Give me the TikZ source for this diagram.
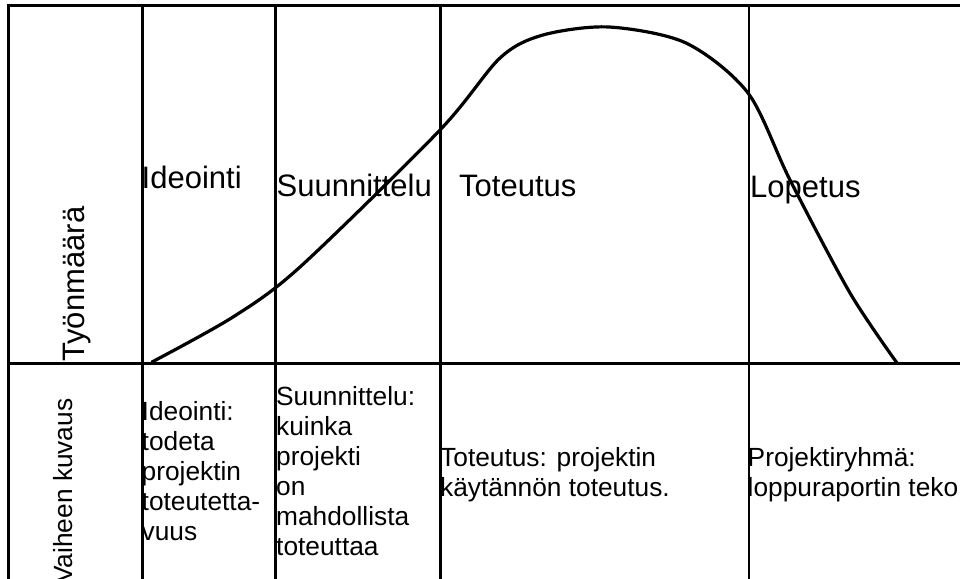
\documentclass[tikz,border=0pt]{standalone}
\usepackage{fontspec}
\setmainfont{Liberation Sans}
\tikzset{
  gridline/.style={line width=2.4pt},
  borderline/.style={line width=3pt},
  workcurve/.style={line width=3.2pt, line join=round, line cap=round},
  phase/.style={font=\fontsize{31}{36}\selectfont, inner sep=0pt, anchor=base west},
  desc/.style={font=\fontsize{26.3}{30}\selectfont, inner sep=0pt, anchor=base west},
}
\begin{document}
\begin{tikzpicture}[x=1pt,y=-1pt]
\useasboundingbox (0,0) rectangle (960,578);
\clip (0,0) rectangle (960,578);
% grid
\draw[borderline] (8.3,580) -- (8.3,5.5) -- (962,5.5);
\draw[gridline] (8.3,363.5) -- (962,363.5);
\foreach \x in {142.5,275.3,440.5,748.7} \draw[gridline] (\x,5.5) -- (\x,580);
% curve
\draw[workcurve] plot[smooth, tension=0.5] coordinates {
  (152,362) (233,317) (300,267) (440,130) (500,58) (543,35)
  (609,27) (686,43) (748,93) (790,180) (850,293) (897,363)};
% upper labels
\node[phase] (ide) at (141.5,188) {Ideointi};
\node[phase] (suu) at (276.5,196) {Suunnittelu};
\node[phase] (tot) at (459,196) {Toteutus};
\node[phase] (lop) at (750,197) {Lopetus};
\node[phase, rotate=90] (tyo) at (84,362) {Työnmäärä};
% lower labels
\node[desc, rotate=90] (vai) at (72,584) {Vaiheen kuvaus};
\node[desc] (d1) at (141.5,420) {\begin{tabular}[t]{@{}l@{}}Ideointi:\\todeta\\projektin\\toteutetta-\\vuus\end{tabular}};
\node[desc] (d2) at (276,405) {\begin{tabular}[t]{@{}l@{}}Suunnittelu:\\kuinka\\projekti\\on\\mahdollista\\toteuttaa\end{tabular}};
\node[desc] (d3) at (440,466) {\begin{tabular}[t]{@{}l@{}}Toteutus: projektin\\käytännön toteutus.\end{tabular}};
\node[desc] (d4) at (747.5,466) {\begin{tabular}[t]{@{}l@{}}Projektiryhmä:\\loppuraportin teko\end{tabular}};
\end{tikzpicture}
\end{document}
